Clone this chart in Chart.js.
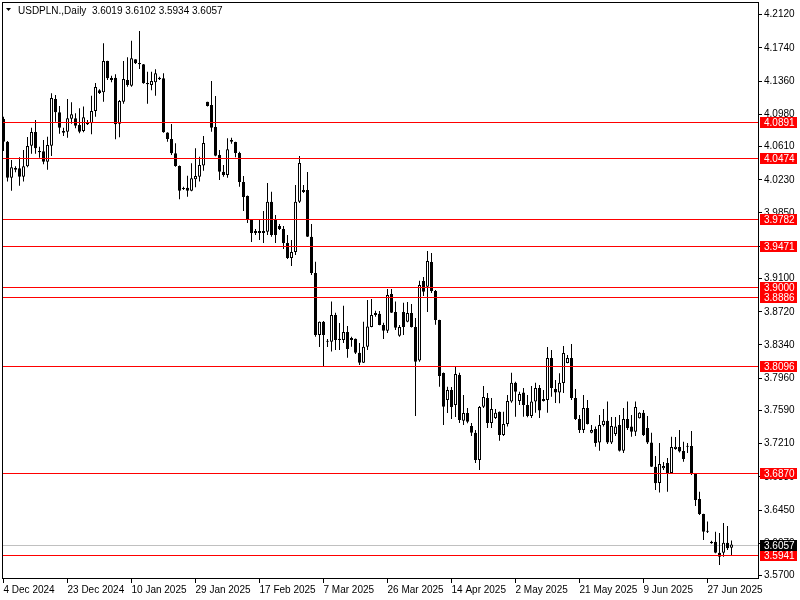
<!DOCTYPE html>
<html>
<head>
<meta charset="utf-8">
<title>USDPLN Daily</title>
<script src="https://cdn.jsdelivr.net/npm/chart.js@4.4.0/dist/chart.umd.min.js"></script>
<style>
    html, body { margin: 0; padding: 0; background: #fff; }
    canvas { display: block; }
</style>
</head>
<body>
<canvas id="chart" width="800" height="600"></canvas>
<script>
const symbolTitle = 'USDPLN.,Daily';

// daily candles, 4 Dec 2024 onwards (one bar per trading session)
const opens = [
    4.0925, 4.0666, 4.0254, 4.0346, 4.0361, 4.0266, 4.0384, 4.0620, 4.0777, 4.0560,
    4.0556, 4.0437, 4.0620, 4.1154, 4.1002, 4.0788, 4.0780, 4.0929, 4.0934, 4.0857,
    4.0788, 4.0887, 4.0876, 4.1017, 4.1254, 4.1231, 4.1589, 4.1372, 4.1398, 4.0872,
    4.1124, 4.1372, 4.1307, 4.1609, 4.1566, 4.1551, 4.1337, 4.1315, 4.1345, 4.1398,
    4.1391, 4.0770, 4.0697, 4.0533, 4.0388, 4.0133, 4.0140, 4.0105, 4.0236, 4.0266,
    4.0392, 4.1124, 4.1086, 4.0834, 4.0514, 4.0323, 4.0285, 4.0685, 4.0663, 4.0537,
    4.0205, 4.0045, 3.9770, 3.9621, 3.9644, 3.9621, 3.9636, 3.9980, 3.9770, 3.9701,
    3.9667, 3.9507, 3.9335, 3.9404, 3.9980, 4.0113, 4.0113, 3.9579, 3.9164, 3.8455,
    3.8607, 3.8378, 3.8378, 3.8683, 3.8412, 3.8397, 3.8489, 3.8420, 3.8412, 3.8252,
    3.8138, 3.8321, 3.8546, 3.8706, 3.8698, 3.8569, 3.8504, 3.8924, 3.8718, 3.8447,
    3.8718, 3.8607, 3.8706, 3.8546, 3.8161, 3.9073, 3.9007, 3.9290, 3.8958, 3.8626,
    3.8020, 3.7711, 3.7825, 3.7654, 3.7997, 3.7474, 3.7562, 3.7414, 3.7337, 3.7025,
    3.7634, 3.7734, 3.7448, 3.7505, 3.7577, 3.7311, 3.7436, 3.7692, 3.7909, 3.7700,
    3.7795, 3.7654, 3.7528, 3.7692, 3.7848, 3.7723, 3.7711, 3.8192, 3.7837, 3.7795,
    3.7906, 3.8134, 3.8192, 3.7734, 3.7494, 3.7368, 3.7620, 3.7337, 3.7379, 3.7223,
    3.7425, 3.7474, 3.7223, 3.7322, 3.7425, 3.7131, 3.7494, 3.7406, 3.7348, 3.7502,
    3.7566, 3.7391, 3.7225, 3.6948, 3.6761, 3.6930, 3.6990, 3.6876, 3.7151, 3.7173,
    3.7128, 3.7177, 3.7185, 3.6865, 3.6578, 3.6407, 3.6204, 3.6090, 3.6090, 3.5964,
    3.5964, 3.6078, 3.6019
];
const highs = [
    4.0950, 4.0674, 4.0457, 4.0384, 4.0487, 4.0571, 4.0720, 4.0826, 4.0914, 4.0609,
    4.0685, 4.0723, 4.1220, 4.1200, 4.1074, 4.0826, 4.1154, 4.1117, 4.0991, 4.1048,
    4.1067, 4.0914, 4.1192, 4.1337, 4.1266, 4.1792, 4.1593, 4.1421, 4.1437, 4.1143,
    4.1589, 4.1631, 4.1822, 4.1609, 4.1932, 4.1555, 4.1467, 4.1467, 4.1494, 4.1410,
    4.1448, 4.0773, 4.0868, 4.0648, 4.0392, 4.0151, 4.0277, 4.0419, 4.0590, 4.0494,
    4.0731, 4.1124, 4.1360, 4.1189, 4.0571, 4.0399, 4.0705, 4.0712, 4.0666, 4.0552,
    4.0274, 4.0050, 3.9775, 3.9667, 3.9770, 3.9873, 4.0193, 4.0094, 3.9827, 3.9724,
    3.9701, 3.9599, 3.9541, 4.0171, 4.0502, 4.0171, 4.0319, 3.9724, 3.9293, 3.8610,
    3.8615, 3.8409, 3.8836, 3.8710, 3.8592, 3.8790, 3.8558, 3.8435, 3.8415, 3.8363,
    3.8607, 3.8855, 3.8866, 3.8733, 3.8729, 3.8595, 3.8981, 3.8981, 3.8836, 3.8569,
    3.8824, 3.8832, 3.8809, 3.8649, 3.9076, 3.9118, 3.9416, 3.9393, 3.8970, 3.8630,
    3.8025, 3.7863, 3.7860, 3.8100, 3.8023, 3.7768, 3.7620, 3.7448, 3.7368, 3.7642,
    3.7871, 3.7791, 3.7734, 3.7608, 3.7580, 3.7577, 3.7768, 3.8023, 3.7920, 3.7806,
    3.7848, 3.7768, 3.7871, 3.7909, 3.7883, 3.7825, 3.8317, 3.8283, 3.7940, 3.8016,
    3.8329, 3.8226, 3.8352, 3.7837, 3.7540, 3.7768, 3.7711, 3.7425, 3.7406, 3.7540,
    3.7608, 3.7692, 3.7516, 3.7516, 3.7540, 3.7620, 3.7692, 3.7540, 3.7692, 3.7570,
    3.7597, 3.7528, 3.7337, 3.7070, 3.7219, 3.7002, 3.7047, 3.7291, 3.7288, 3.7368,
    3.7234, 3.7219, 3.7356, 3.6870, 3.6662, 3.6410, 3.6319, 3.6100, 3.6204, 3.6190,
    3.6304, 3.6270, 3.6102
];
const lows = [
    4.0560, 4.0209, 4.0105, 4.0316, 4.0163, 4.0209, 4.0373, 4.0529, 4.0529, 4.0483,
    4.0407, 4.0346, 4.0502, 4.0895, 4.0758, 4.0731, 4.0712, 4.0872, 4.0819, 4.0762,
    4.0773, 4.0857, 4.0751, 4.0952, 4.1212, 4.1124, 4.1372, 4.1345, 4.0693, 4.0716,
    4.1101, 4.1295, 4.1295, 4.1555, 4.1498, 4.1330, 4.1101, 4.1254, 4.1192, 4.1372,
    4.0769, 4.0666, 4.0514, 4.0380, 4.0007, 4.0113, 4.0037, 4.0100, 4.0144, 4.0209,
    4.0334, 4.1067, 4.0780, 4.0500, 4.0228, 4.0266, 4.0254, 4.0643, 4.0488, 4.0151,
    3.9873, 3.9736, 3.9519, 3.9599, 3.9541, 3.9507, 3.9599, 3.9579, 3.9507, 3.9656,
    3.9438, 3.9324, 3.9244, 3.9370, 3.9965, 4.0079, 3.9576, 3.9141, 3.8435, 3.8317,
    3.8100, 3.8317, 3.8264, 3.8283, 3.8283, 3.8363, 3.8195, 3.8321, 3.8237, 3.8111,
    3.8134, 3.8283, 3.8543, 3.8664, 3.8565, 3.8409, 3.8478, 3.8706, 3.8512, 3.8435,
    3.8455, 3.8600, 3.8540, 3.7528, 3.8149, 3.8901, 3.8718, 3.8935, 3.8570, 3.7863,
    3.7425, 3.7562, 3.7494, 3.7516, 3.7448, 3.7425, 3.7444, 3.7299, 3.6990, 3.6910,
    3.7620, 3.7391, 3.7391, 3.7494, 3.7245, 3.7299, 3.7406, 3.7680, 3.7520, 3.7654,
    3.7520, 3.7513, 3.7505, 3.7566, 3.7505, 3.7692, 3.7566, 3.7749, 3.7677, 3.7673,
    3.7791, 3.8130, 3.7711, 3.7482, 3.7334, 3.7334, 3.7430, 3.7330, 3.7177, 3.7131,
    3.7406, 3.7208, 3.7208, 3.7299, 3.7120, 3.7105, 3.7368, 3.7291, 3.7299, 3.7498,
    3.7299, 3.7208, 3.6945, 3.6681, 3.6651, 3.6910, 3.6662, 3.6870, 3.7141, 3.7110,
    3.7005, 3.7105, 3.6853, 3.6498, 3.6395, 3.6109, 3.6189, 3.6065, 3.5957, 3.5823,
    3.5918, 3.5995, 3.5934
];
const closes = [
    4.0666, 4.0254, 4.0373, 4.0365, 4.0266, 4.0384, 4.0617, 4.0777, 4.0590, 4.0545,
    4.0437, 4.0628, 4.1166, 4.1002, 4.0826, 4.0769, 4.0934, 4.0979, 4.0849, 4.0780,
    4.0945, 4.0865, 4.1017, 4.1292, 4.1223, 4.1589, 4.1391, 4.1395, 4.0865, 4.1132,
    4.1383, 4.1315, 4.1620, 4.1563, 4.1551, 4.1334, 4.1322, 4.1360, 4.1448, 4.1380,
    4.0773, 4.0697, 4.0533, 4.0388, 4.0105, 4.0125, 4.0105, 4.0247, 4.0274, 4.0399,
    4.0651, 4.1074, 4.0826, 4.0506, 4.0323, 4.0285, 4.0579, 4.0666, 4.0537, 4.0205,
    4.0033, 3.9770, 3.9621, 3.9644, 3.9621, 3.9644, 3.9980, 3.9599, 3.9599, 3.9667,
    3.9507, 3.9335, 3.9404, 3.9980, 4.0422, 4.0091, 3.9579, 3.9164, 3.8455, 3.8607,
    3.8455, 3.8386, 3.8683, 3.8397, 3.8397, 3.8489, 3.8294, 3.8397, 3.8252, 3.8138,
    3.8321, 3.8550, 3.8683, 3.8683, 3.8569, 3.8504, 3.8912, 3.8710, 3.8538, 3.8546,
    3.8546, 3.8706, 3.8546, 3.8149, 3.9027, 3.8950, 3.9301, 3.8958, 3.8626, 3.7986,
    3.7634, 3.7825, 3.7631, 3.8009, 3.7482, 3.7562, 3.7463, 3.7337, 3.7025, 3.7631,
    3.7745, 3.7448, 3.7608, 3.7566, 3.7311, 3.7436, 3.7700, 3.7909, 3.7806, 3.7780,
    3.7654, 3.7528, 3.7692, 3.7848, 3.7589, 3.7700, 3.8192, 3.7848, 3.7795, 3.7909,
    3.8249, 3.8192, 3.7734, 3.7494, 3.7368, 3.7620, 3.7437, 3.7368, 3.7219, 3.7425,
    3.7474, 3.7223, 3.7414, 3.7406, 3.7131, 3.7494, 3.7391, 3.7348, 3.7631, 3.7566,
    3.7311, 3.7225, 3.6948, 3.6758, 3.6979, 3.6956, 3.6876, 3.7173, 3.7177, 3.7120,
    3.7036, 3.7182, 3.6876, 3.6567, 3.6407, 3.6204, 3.6212, 3.6072, 3.5964, 3.5918,
    3.6078, 3.6014, 3.6057
];

// one date label every 16 bars
const xTickLabels = [
    '4 Dec 2024', '23 Dec 2024', '10 Jan 2025', '29 Jan 2025', '17 Feb 2025', '7 Mar 2025',
    '26 Mar 2025', '14 Apr 2025', '2 May 2025', '21 May 2025', '9 Jun 2025', '27 Jun 2025'
];
const yTickValues = [
    4.2120, 4.1740, 4.1360, 4.0980, 4.0610, 4.0230, 3.9850, 3.9470, 3.9100,
    3.8720, 3.8340, 3.7960, 3.7590, 3.7210, 3.6830, 3.6450, 3.6070, 3.5700
];
const levelLines = [4.0891, 4.0474, 3.9782, 3.9471, 3.9000, 3.8886, 3.8096, 3.6870, 3.5941];
const bidPrice = 3.6057;

const BARS_PER_LABEL = 16;
const FONT_FAMILY = '"Liberation Sans", Arial, sans-serif';

function buildCandles() {
    const wicks = [];
    const bodies = [];
    const bodyColors = [];
    opens.forEach((open, i) => {
        const close = closes[i];
        wicks.push({ x: i, y: [lows[i], highs[i]] });
        bodies.push({ x: i, y: [Math.min(open, close), Math.max(open, close)] });
        bodyColors.push(close >= open ? '#ffffff' : '#000000');
    });
    return { wicks, bodies, bodyColors };
}

function drawLevel(chart, value, color) {
    const { ctx, chartArea, scales } = chart;
    const py = Math.round(scales.y.getPixelForValue(value)) + 0.5;
    ctx.save();
    ctx.strokeStyle = color;
    ctx.lineWidth = 1;
    ctx.beginPath();
    ctx.moveTo(chartArea.left, py);
    ctx.lineTo(chartArea.right, py);
    ctx.stroke();
    ctx.restore();
}

function drawPriceTag(chart, value, color) {
    const { ctx, chartArea, scales } = chart;
    const py = Math.round(scales.y.getPixelForValue(value));
    ctx.save();
    ctx.fillStyle = color;
    ctx.fillRect(chartArea.right + 2, py - 5, 37, 11);
    ctx.fillStyle = '#ffffff';
    ctx.font = '10px ' + FONT_FAMILY;
    ctx.textBaseline = 'middle';
    ctx.fillText(value.toFixed(4), chartArea.right + 6, py + 1);
    ctx.restore();
}

const terminalDecor = {
    id: 'terminalDecor',
    beforeDatasetsDraw(chart) {
        drawLevel(chart, bidPrice, '#c0c0c0');
    },
    afterDatasetsDraw(chart) {
        levelLines.forEach(v => drawLevel(chart, v, '#ff0000'));
    },
    afterDraw(chart) {
        const { ctx, chartArea } = chart;
        ctx.save();
        ctx.strokeStyle = '#000000';
        ctx.lineWidth = 1;
        ctx.strokeRect(chartArea.left + 0.5, chartArea.top + 0.5,
            chartArea.right - chartArea.left, chartArea.bottom - chartArea.top);

        // header: symbol, period and last bar OHLC
        const last = opens.length - 1;
        const ohlc = [opens[last], highs[last], lows[last], closes[last]].map(v => v.toFixed(4)).join(' ');
        ctx.fillStyle = '#000000';
        ctx.beginPath();
        ctx.moveTo(6, 8);
        ctx.lineTo(11, 8);
        ctx.lineTo(8.5, 11);
        ctx.closePath();
        ctx.fill();
        ctx.font = '10px ' + FONT_FAMILY;
        ctx.textBaseline = 'middle';
        ctx.fillText(symbolTitle + '  ' + ohlc, 18, 11);
        ctx.restore();

        levelLines.forEach(v => drawPriceTag(chart, v, '#ff0000'));
        drawPriceTag(chart, bidPrice, '#000000');
    }
};

document.addEventListener('DOMContentLoaded', () => {
    Chart.defaults.font.family = FONT_FAMILY;
    Chart.defaults.font.size = 10;
    Chart.defaults.color = '#000000';

    const { wicks, bodies, bodyColors } = buildCandles();
    const barOptions = {
        grouped: false,
        barPercentage: 1,
        categoryPercentage: 1,
        inflateAmount: 0
    };

    new Chart(document.getElementById('chart'), {
        type: 'bar',
        data: {
            datasets: [
                Object.assign({
                    label: 'body',
                    data: bodies,
                    backgroundColor: bodyColors,
                    borderColor: '#000000',
                    borderWidth: 1,
                    borderSkipped: false,
                    barThickness: 3,
                    maxBarThickness: 3,
                    minBarLength: 1,
                    order: 1
                }, barOptions),
                Object.assign({
                    label: 'wick',
                    data: wicks,
                    backgroundColor: '#000000',
                    borderWidth: 0,
                    barThickness: 1,
                    maxBarThickness: 1,
                    order: 2
                }, barOptions)
            ]
        },
        options: {
            responsive: false,
            animation: false,
            devicePixelRatio: 1,
            layout: { padding: { top: 2, left: 2, right: 0, bottom: 0 } },
            plugins: {
                legend: { display: false },
                tooltip: { enabled: false }
            },
            scales: {
                x: {
                    type: 'linear',
                    offset: false,
                    bounds: 'data',
                    min: -0.375,
                    max: 188.625,
                    afterBuildTicks: scale => {
                        scale.ticks = xTickLabels.map((_, k) => ({ value: k * BARS_PER_LABEL }));
                    },
                    afterFit: scale => {
                        scale.height = 22;
                        scale.paddingLeft = 0;
                        scale.paddingRight = 0;
                    },
                    grid: { offset: false, drawOnChartArea: false, drawTicks: true, tickLength: 5, color: '#000000' },
                    border: { display: false },
                    ticks: {
                        autoSkip: false,
                        maxRotation: 0,
                        align: 'start',
                        padding: 1,
                        callback: (value, index) => xTickLabels[index]
                    }
                },
                y: {
                    type: 'linear',
                    position: 'right',
                    min: 3.5674,
                    max: 4.2264,
                    afterBuildTicks: scale => {
                        scale.ticks = yTickValues.map(v => ({ value: v }));
                    },
                    afterFit: scale => {
                        scale.width = 42;
                        scale.paddingTop = 0;
                        scale.paddingBottom = 0;
                    },
                    grid: { drawOnChartArea: false, drawTicks: true, tickLength: 4, color: '#000000' },
                    border: { display: false },
                    ticks: {
                        padding: 2,
                        callback: value => value.toFixed(4)
                    }
                }
            }
        },
        plugins: [terminalDecor]
    });
});
</script>
</body>
</html>
